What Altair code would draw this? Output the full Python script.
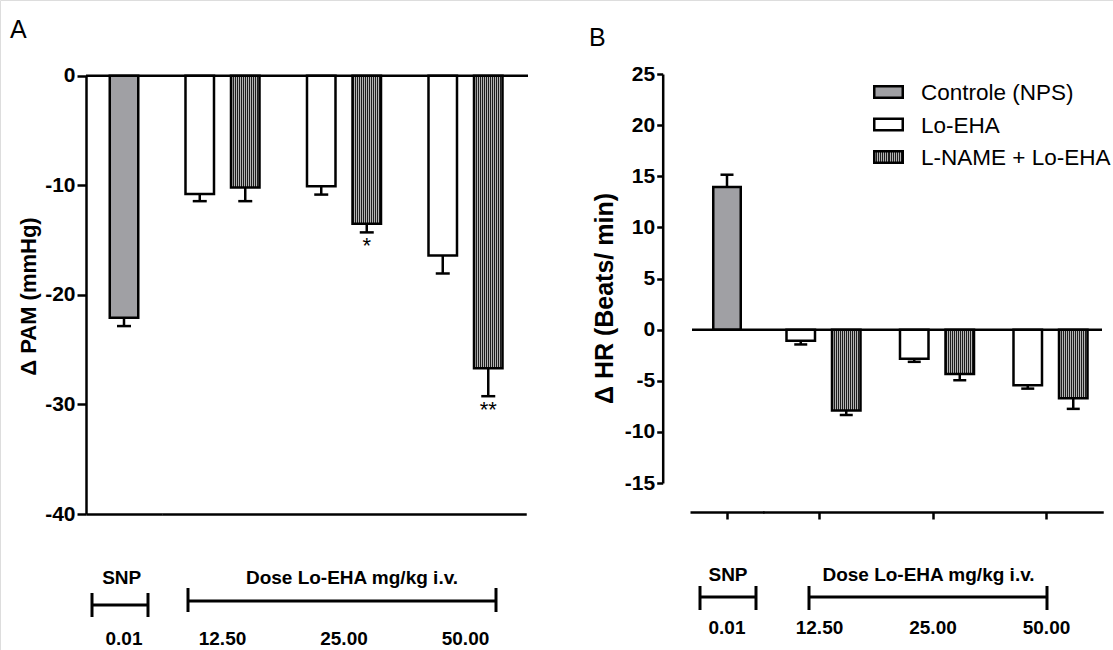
import altair as alt
import pandas as pd

FONT = "Liberation Sans"

# ---------------- data ----------------
treatments = ["Controle (NPS)", "Lo-EHA", "L-NAME + Lo-EHA"]
snp_dose = ["0.01"]
lo_doses = ["12.50", "25.00", "50.00"]

# Panel A : delta PAM (mmHg), mean and SEM
a_ctrl_mean = [-22.1]
a_ctrl_sem = [0.75]
a_lo_mean = [-10.8, -10.1, -16.4]
a_lo_sem = [0.65, 0.75, 1.65]
a_ln_mean = [-10.2, -13.5, -26.7]
a_ln_sem = [1.25, 0.8, 2.55]
a_ln_sig = ["", "*", "**"]

# Panel B : delta HR (Beats/min), mean and SEM
b_ctrl_mean = [13.95]
b_ctrl_sem = [1.2]
b_lo_mean = [-1.1, -2.85, -5.45]
b_lo_sem = [0.35, 0.3, 0.32]
b_ln_mean = [-7.9, -4.35, -6.7]
b_ln_sem = [0.45, 0.6, 1.05]
b_ln_sig = ["", "", ""]

a_ticks = [0, -10, -20, -30, -40]
b_ticks = [25, 20, 15, 10, 5, 0, -5, -10, -15]

panel_letters = ["A", "B"]
group_titles = ["SNP", "Dose Lo-EHA mg/kg i.v."]
y_titles = ["\u0394 PAM (mmHg)", "\u0394 HR (Beats/ min)"]

# ---------------- styles ----------------
W, H = 1113, 650
LW = 2.5
INK = "#000000"
GRAY = "#a0a0a4"


def checker(n=14, dark="#1e1e1e", light="#b4b4b4"):
    stops = []
    for i in range(n):
        a, m, b = i / n, (i + 0.5) / n, (i + 1) / n
        stops += [
            alt.GradientStop(offset=a, color=dark),
            alt.GradientStop(offset=m, color=dark),
            alt.GradientStop(offset=m, color=light),
            alt.GradientStop(offset=b, color=light),
        ]
    return alt.LinearGradient(gradient="linear", stops=stops, x1=0, x2=1, y1=0, y2=0)


CHECK = checker()

PA = dict(ydom=[-40, 0], yrng=[514, 75.7], yoff=-86, yticks=a_ticks, ytick=9,
          ytitle=y_titles[0], ytfs=22, titleX=-58, titleY=296,
          snp_rng=[86, 162], snp_po=0.8333, dose_rng=[161.75, 526.25],
          pi=0.3736, po=0.5218, xoff=-136, xtick=0, xlabpad=115, cap=14,
          zero=(86, 528), stardy=4)
PB = dict(ydom=[-15, 25], yrng=[483, 74], yoff=-662.7, yticks=b_ticks, ytick=6,
          ytitle=y_titles[1], ytfs=25, titleX=-58.7, titleY=298,
          snp_rng=[690, 764], snp_po=0.8455, dose_rng=[762.75, 1103.25],
          pi=0.3605, po=0.5002, xoff=-138, xtick=7, xlabpad=99.5, cap=13,
          zero=(692, 1102), stardy=4)

ERR = "datum.mean + (datum.mean < 0 ? -datum.sem : datum.sem)"


def x_axis(P):
    kw = dict(orient="bottom", offset=P["xoff"], title=None, labelAngle=0,
              labelFont=FONT, labelFontSize=19, labelFontWeight="bold",
              labelColor=INK, labelPadding=P["xlabpad"],
              domainColor=INK, domainWidth=LW, grid=False)
    if P["xtick"] > 0:
        kw.update(ticks=True, tickSize=P["xtick"], tickWidth=LW, tickColor=INK)
    else:
        kw.update(ticks=False)
    return alt.Axis(**kw)


def panel(P, cm, cs, lm, ls, nm, ns, sig):
    ys = alt.Scale(domain=P["ydom"], range=P["yrng"], nice=False)
    ya = alt.Axis(orient="left", offset=P["yoff"], values=P["yticks"],
                  title=P["ytitle"], titleX=P["titleX"], titleY=P["titleY"],
                  titleAngle=270, titleBaseline="middle", titleAlign="center",
                  titleFont=FONT, titleFontSize=P["ytfs"], titleFontWeight="bold",
                  titleColor=INK,
                  labelFont=FONT, labelFontSize=21, labelFontWeight="bold",
                  labelColor=INK, labelPadding=2,
                  labelExpr="'' + datum.value",
                  tickSize=P["ytick"], tickWidth=LW, tickColor=INK,
                  domainColor=INK, domainWidth=LW, grid=False)

    def Y(field):
        return alt.Y(field, type="quantitative", scale=ys, axis=ya)

    # ---- SNP (control) bar ----
    snp = pd.DataFrame({"dose": snp_dose, "treatment": treatments[:1],
                        "mean": cm, "sem": cs})
    Xs = alt.X("dose:N", sort=snp_dose,
               scale=alt.Scale(domain=snp_dose, range=P["snp_rng"],
                               paddingInner=0, paddingOuter=P["snp_po"]),
               axis=x_axis(P))
    bs = alt.Chart(snp).transform_calculate(err=ERR)
    snp_layer = alt.layer(
        bs.mark_bar(fill=GRAY, stroke=INK, strokeWidth=LW).encode(x=Xs, y=Y("mean")),
        bs.mark_rule(color=INK, strokeWidth=LW).encode(x=Xs, y=Y("mean"), y2=alt.Y2("err")),
        bs.mark_tick(color=INK, size=P["cap"], thickness=LW, opacity=1).encode(x=Xs, y=Y("err")),
    )

    # ---- Lo-EHA doses ----
    rows = []
    for i, d in enumerate(lo_doses):
        rows.append({"dose": d, "treatment": treatments[1], "mean": lm[i], "sem": ls[i], "sig": ""})
        rows.append({"dose": d, "treatment": treatments[2], "mean": nm[i], "sem": ns[i], "sig": sig[i]})
    dd = pd.DataFrame(rows)
    Xd = alt.X("dose:N", sort=lo_doses,
               scale=alt.Scale(domain=lo_doses, range=P["dose_rng"],
                               paddingInner=0, paddingOuter=0),
               axis=x_axis(P))
    XO = alt.XOffset("treatment:N", sort=treatments[1:],
                     scale=alt.Scale(domain=treatments[1:], paddingInner=P["pi"],
                                     paddingOuter=P["po"]))
    bd = alt.Chart(dd).transform_calculate(err=ERR)
    dose_layer = alt.layer(
        bd.transform_filter(alt.datum.treatment == treatments[1])
          .mark_bar(fill="white", stroke=INK, strokeWidth=LW)
          .encode(x=Xd, xOffset=XO, y=Y("mean")),
        bd.transform_filter(alt.datum.treatment == treatments[2])
          .mark_bar(fill=CHECK, stroke=INK, strokeWidth=LW)
          .encode(x=Xd, xOffset=XO, y=Y("mean")),
        bd.mark_rule(color=INK, strokeWidth=LW)
          .encode(x=Xd, xOffset=XO, y=Y("mean"), y2=alt.Y2("err")),
        bd.mark_tick(color=INK, size=P["cap"], thickness=LW, opacity=1)
          .encode(x=Xd, xOffset=XO, y=Y("err")),
        bd.mark_text(baseline="top", dy=P["stardy"], font=FONT, fontSize=22, color=INK)
          .encode(x=Xd, xOffset=XO, y=Y("err"), text="sig:N"),
    )

    zero = alt.Chart().mark_rule(color=INK, strokeWidth=LW, orient="horizontal").encode(
        y=alt.Y(datum=0, type="quantitative", scale=ys, axis=ya),
        y2=alt.Y2(datum=0),
        x=alt.value(P["zero"][0]), x2=alt.value(P["zero"][1]))

    return (alt.layer(snp_layer, dose_layer, zero)
            .resolve_scale(x="independent")
            .resolve_axis(x="independent"))


panel_a = panel(PA, a_ctrl_mean, a_ctrl_sem, a_lo_mean, a_lo_sem, a_ln_mean, a_ln_sem, a_ln_sig)
panel_b = panel(PB, b_ctrl_mean, b_ctrl_sem, b_lo_mean, b_lo_sem, b_ln_mean, b_ln_sem, b_ln_sig)


# ---------------- decorations (brackets, letters, legend) ----------------
def hline(x1, x2, y, w=3):
    return alt.Chart().mark_rule(color=INK, strokeWidth=w).encode(
        x=alt.value(x1), x2=alt.value(x2), y=alt.value(y))


def vline(x, y1, y2, w=3):
    return alt.Chart().mark_rule(color=INK, strokeWidth=w).encode(
        x=alt.value(x), y=alt.value(y1), y2=alt.value(y2))


def bracket(x1, x2, y, y1, y2):
    return [hline(x1, x2, y), vline(x1, y1, y2), vline(x2, y1, y2)]


def label(txt, x, y, size, weight="bold", align="center", baseline="middle"):
    return alt.Chart().mark_text(font=FONT, fontSize=size, fontWeight=weight,
                                 align=align, baseline=baseline, color=INK).encode(
        x=alt.value(x), y=alt.value(y), text=alt.value(txt))


decos = []
decos += bracket(92, 148, 605, 593, 617)
decos += bracket(188, 496, 601, 588, 612)
decos.append(label(group_titles[0], 121.7, 578, 19))
decos.append(label(group_titles[1], 352, 578, 19))
decos += bracket(700, 756, 597, 586, 610)
decos += bracket(809, 1047, 597, 586, 610)
decos.append(label(group_titles[0], 728, 575, 19))
decos.append(label(group_titles[1], 928.5, 575, 19))
decos.append(label(panel_letters[0], 10, 38, 25, weight="normal", align="left", baseline="alphabetic"))
decos.append(label(panel_letters[1], 589, 46, 25, weight="normal", align="left", baseline="alphabetic"))

leg_y = [92, 124.5, 157]
leg_fill = [GRAY, "white", CHECK]
for name, yc, f in zip(treatments, leg_y, leg_fill):
    decos.append(alt.Chart().mark_rect(fill=f, stroke=INK, strokeWidth=LW).encode(
        x=alt.value(874.25), x2=alt.value(902.75), y=alt.value(yc - 5.75), y2=alt.value(yc + 5.75)))
    decos.append(label(name, 921, yc + 1, 22.5, weight="normal", align="left"))

chart = (alt.layer(panel_a, panel_b, *decos)
         .resolve_scale(x="independent", y="independent")
         .resolve_axis(x="independent", y="independent")
         .properties(width=W, height=H, padding=0,
                     autosize=alt.AutoSizeParams(type="none"),
                     background="white")
         .configure_view(stroke="transparent", strokeOpacity=0)
         .configure(font=FONT))

chart.save("out.html", embed_options={"renderer": "svg", "actions": False})
